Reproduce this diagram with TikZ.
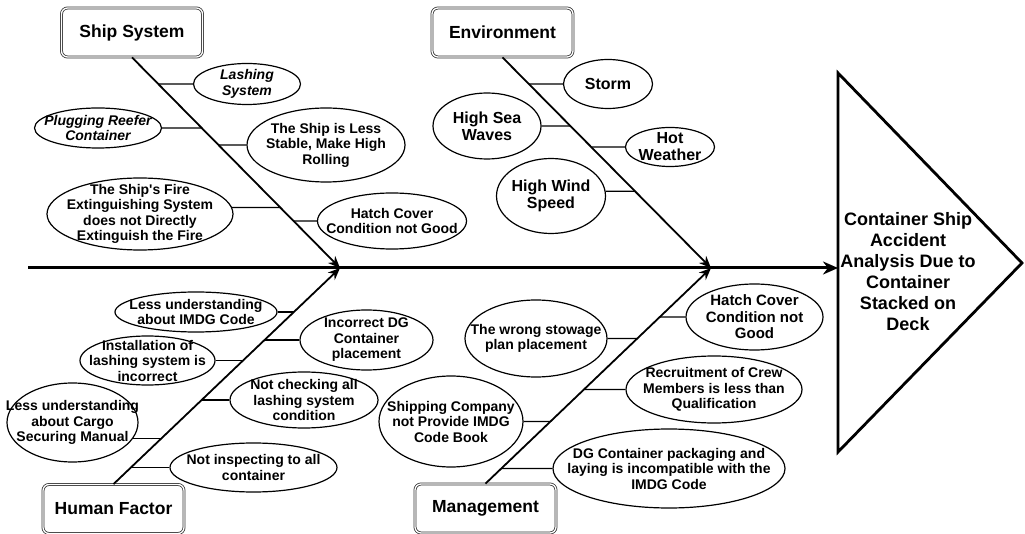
\documentclass[tikz,border=0pt]{standalone}
\usepackage{fontspec}
\setmainfont{Liberation Sans}
\usetikzlibrary{shapes.geometric,arrows.meta}
\tikzset{
  ell/.style 2 args={draw, ellipse, fill=white, line width=1.2pt, minimum width=#1pt, minimum height=#2pt, inner sep=0pt},
  txt/.style={align=center, inner sep=0pt, font=\fontsize{14}{15.5}\selectfont\bfseries},
  envtxt/.style={txt, font=\fontsize{16}{17}\selectfont\bfseries},
  ittxt/.style={txt, font=\fontsize{14}{15.5}\selectfont\bfseries\itshape},
  catbox/.style={draw=black!80, double=white, double distance=1.3pt, line width=0.8pt, rounded corners=6pt, fill=white,
    minimum width=141pt, minimum height=49pt, inner sep=0pt, font=\fontsize{17.5}{20}\selectfont\bfseries},
  titletxt/.style={align=center, inner sep=0pt, font=\fontsize{18}{21}\selectfont\bfseries},
  spine/.style={line width=3pt, -{Stealth[length=15pt,width=13pt]}},
  bone/.style={line width=1.8pt, -{Stealth[length=12pt,width=10pt]}},
  twig/.style={line width=1.3pt},
}
\newcommand{\twig}[3]{\draw[twig] (#1) -- (intersection cs: first line={(#2)--(#3)}, second line={(#1)--([xshift=10pt]#1)});}
\begin{document}
\begin{tikzpicture}[x=1pt,y=-1pt]
\useasboundingbox (0,0) rectangle (1025,534);
% category boxes
\node[catbox] (ss) at (132,32.5) {Ship System};
\node[catbox] (env) at (502.5,32.5) {Environment};
\node[catbox] (hf) at (113.5,509) {Human Factor};
\node[catbox] (mg) at (485.5,508.5) {Management};
% spine coordinates
\coordinate (s0) at (28,268);
\coordinate (j1) at (340,268);
\coordinate (j2) at (711,268);
% head triangle
\coordinate (ta) at (838,73);
\coordinate (tc) at (1022,263);
\coordinate (tb) at (838,452);
\coordinate (tw) at (838,268);
\draw[line width=2.8pt, line join=miter] (ta) -- (tc) -- (tb) -- cycle;
\node[titletxt] (tt) at (908,272) {Container Ship\\Accident\\Analysis Due to\\Container\\Stacked on\\Deck};
% spine and bones
\draw[spine] (s0) -- (tw);
\draw[bone] (ss.south) -- (j1);
\draw[bone] (env.south) -- (j2);
\draw[bone] (hf.north) -- (j1);
\draw[bone] (mg.north) -- (j2);
% Ship System causes
\node[ell={107}{41}] (s1) at (247,84) {};
\node[ittxt] at (s1) {Lashing\\System};
\node[ell={127}{40}] (s2) at (98,128) {};
\node[ittxt] at (s2) {Plugging Reefer\\Container};
\node[ell={158}{74}] (s3) at (326,145) {};
\node[txt] at (s3) {The Ship is Less\\Stable, Make High\\Rolling};
\node[ell={186}{72}] (s4) at (140,214) {};
\node[txt] at (s4) {The Ship\textquotesingle s Fire\\Extinguishing System\\does not Directly\\Extinguish the Fire};
\node[ell={149}{56}] (s5) at (392,221) {};
\node[txt] at (s5) {Hatch Cover\\Condition not Good};
\twig{s1.west}{ss.south}{j1}
\twig{s2.east}{ss.south}{j1}
\twig{s3.west}{ss.south}{j1}
\twig{s4.4}{ss.south}{j1}
\twig{s5.west}{ss.south}{j1}
% Environment causes
\node[ell={89}{49}] (e1) at (608,84) {};
\node[envtxt] at (e1) {Storm};
\node[ell={108}{66}] (e2) at (487,126) {};
\node[envtxt] at (e2) {High Sea\\Waves};
\node[ell={89}{39}] (e3) at (670,147) {};
\node[envtxt] at (e3) {Hot\\Weather};
\node[ell={109}{75}] (e4) at (551,196) {};
\node[envtxt] at (e4) {High Wind\\Speed};
\twig{e1.west}{env.south}{j2}
\twig{e2.east}{env.south}{j2}
\twig{e3.west}{env.south}{j2}
\twig{e4.5}{env.south}{j2}
% Human Factor causes
\node[ell={162}{40}] (h1) at (196,312) {};
\node[txt] at (h1) {Less understanding\\about IMDG Code};
\node[ell={133}{60}] (h2) at (366.5,340) {};
\node[txt] at (h2) {Incorrect DG\\Container\\placement};
\node[ell={135}{49}] (h3) at (147.5,360.5) {};
\node[txt] at (h3) {Installation of\\lashing system is\\incorrect};
\node[ell={148}{56}] (h4) at (304,400) {};
\node[txt] at (h4) {Not checking all\\lashing system\\condition};
\node[ell={131}{79}] (h5) at (72.5,422.5) {};
\node[txt] at (h5) {Less understanding\\about Cargo\\Securing Manual};
\node[ell={167}{49}] (h6) at (253.5,467.5) {};
\node[txt] at (h6) {Not inspecting to all\\container};
\twig{h1.east}{hf.north}{j1}
\twig{h2.west}{hf.north}{j1}
\twig{h3.east}{hf.north}{j1}
\twig{h4.west}{hf.north}{j1}
\twig{h5.-15}{hf.north}{j1}
\twig{h6.west}{hf.north}{j1}
% Management causes
\node[ell={137}{66}] (m1) at (754.5,317) {};
\node[txt, font=\fontsize{15}{16.5}\selectfont\bfseries] at (m1) {Hatch Cover\\Condition not\\Good};
\node[ell={142}{77}] (m2) at (536,338.5) {};
\node[txt] at (m2) {The wrong stowage\\plan placement};
\node[ell={176}{67}] (m3) at (714,389.5) {};
\node[txt] at (m3) {Recruitment of Crew\\Members is less than\\Qualification};
\node[ell={144}{91}] (m4) at (451,421.5) {};
\node[txt] at (m4) {Shipping Company\\not Provide IMDG\\Code Book};
\node[ell={232}{79}] (m5) at (669,468.5) {};
\node[txt] at (m5) {DG Container packaging and\\laying is incompatible with the\\IMDG Code};
\twig{m1.west}{mg.north}{j2}
\twig{m2.east}{mg.north}{j2}
\twig{m3.west}{mg.north}{j2}
\twig{m4.east}{mg.north}{j2}
\twig{m5.west}{mg.north}{j2}
\end{tikzpicture}
\end{document}
